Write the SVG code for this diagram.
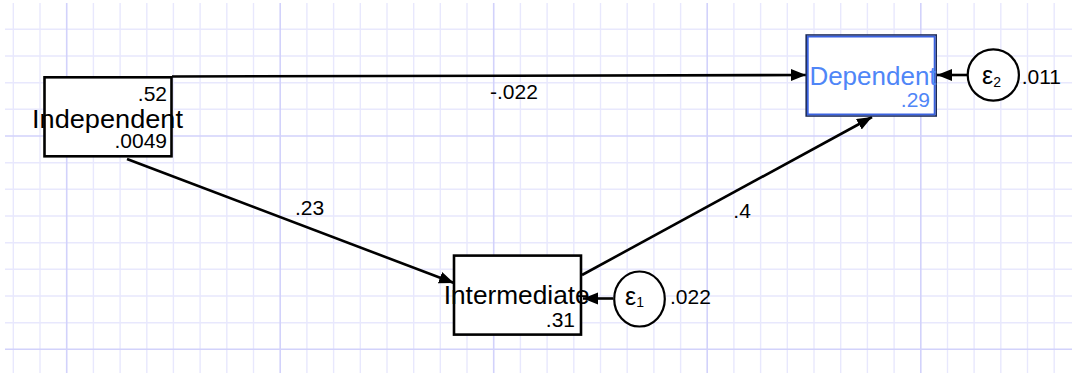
<svg xmlns="http://www.w3.org/2000/svg" width="1072" height="377" viewBox="0 0 1072 377">
<style>
.gl{stroke:#e8e8fd;stroke-width:1.4;fill:none}
.gd{stroke:#d2d2fb;stroke-width:1.6;fill:none}
.box{fill:#fff;stroke:#000;stroke-width:2.6}
.err{fill:#fff;stroke:#000;stroke-width:2.2}
.lbl{font-family:"Liberation Sans",Arial,sans-serif;font-size:26px;fill:#000}
.num{font-family:"Liberation Sans",Arial,sans-serif;font-size:21px;fill:#000}
.eps{font-family:"Liberation Sans",Arial,sans-serif;font-size:25px;fill:#000}
.sub{font-size:14px}
.con{stroke:#000;stroke-width:2.6;fill:none;marker-end:url(#ah)}
.blue{fill:#4f86f7}
</style>
<defs>
<marker id="ah" markerUnits="userSpaceOnUse" markerWidth="17" markerHeight="13" refX="15" refY="6" orient="auto">
<path d="M0,0 L15,6 L0,12 z" fill="#000"/>
</marker>
</defs>
<rect width="1072" height="377" fill="#fff"/>
<g id="grid">
<path class="gl" d="M13.3 3V373M40 3V373M93.4 3V373M120.1 3V373M146.8 3V373M173.4 3V373M200.1 3V373M226.8 3V373M253.5 3V373M306.9 3V373M333.6 3V373M360.3 3V373M387 3V373M413.7 3V373M440.3 3V373M467 3V373M520.4 3V373M547.1 3V373M573.8 3V373M600.5 3V373M627.2 3V373M653.9 3V373M680.6 3V373M733.9 3V373M760.6 3V373M787.3 3V373M814 3V373M840.7 3V373M867.4 3V373M894.1 3V373M947.5 3V373M974.1 3V373M1000.8 3V373M1027.5 3V373M1054.2 3V373"/>
<path class="gl" d="M5 29.3H1072M5 56H1072M5 82.7H1072M5 109.3H1072M5 162.7H1072M5 189.3H1072M5 216H1072M5 242.7H1072M5 269.3H1072M5 296H1072M5 322.7H1072"/>
<path class="gd" d="M66.7 3V373M280.2 3V373M493.7 3V373M707.2 3V373M920.8 3V373M5 136H1072M5 349.3H1072"/>
</g>
<g id="connectors">
<path class="con" d="M172 76.5 L806 75"/>
<path class="con" d="M127 159 L454 283"/>
<path class="con" d="M582 275 L872 117"/>
<path class="con" d="M613 298.5 L583 298.5"/>
<path class="con" d="M967 75 L937 75"/>
</g>
<g id="independent">
<rect class="box" x="44.5" y="77.3" width="127" height="79"/>
<text class="num" x="167" y="101" text-anchor="end">.52</text>
<text class="lbl" x="107.5" y="128.3" text-anchor="middle" textLength="151" lengthAdjust="spacingAndGlyphs">Independent</text>
<text class="num" x="167" y="148.3" text-anchor="end">.0049</text>
</g>
<g id="intermediate">
<rect class="box" x="454" y="255.6" width="127" height="79"/>
<text class="lbl" x="516.7" y="304" text-anchor="middle" textLength="146" lengthAdjust="spacingAndGlyphs">Intermediate</text>
<text class="num" x="575" y="327.3" text-anchor="end">.31</text>
</g>
<g id="dependent">
<rect x="806.2" y="35" width="130" height="81" fill="#fff" stroke="#1c2a55" stroke-width="1.6"/>
<rect x="807.8" y="36.6" width="126.8" height="77.8" fill="none" stroke="#3a62e0" stroke-width="1.8"/>
<text class="lbl blue" x="873" y="85" text-anchor="middle">Dependent</text>
<text class="num blue" x="930" y="107.3" text-anchor="end">.29</text>
</g>
<g id="e1">
<ellipse class="err" cx="639.5" cy="299" rx="25.3" ry="27.5"/>
<text class="eps" x="625" y="305">ε<tspan class="sub" dy="2.4">1</tspan></text>
<text class="num" x="670" y="304">.022</text>
</g>
<g id="e2">
<circle class="err" cx="993.3" cy="75" r="25.6"/>
<text class="eps" x="982" y="84">ε<tspan class="sub" dy="3.3">2</tspan></text>
<text class="num" x="1021.7" y="84.3">.011</text>
</g>
<g id="edge-labels">
<text class="num" x="490" y="99">-.022</text>
<text class="num" x="295" y="215">.23</text>
<text class="num" x="733.3" y="217.7">.4</text>
</g>
</svg>
